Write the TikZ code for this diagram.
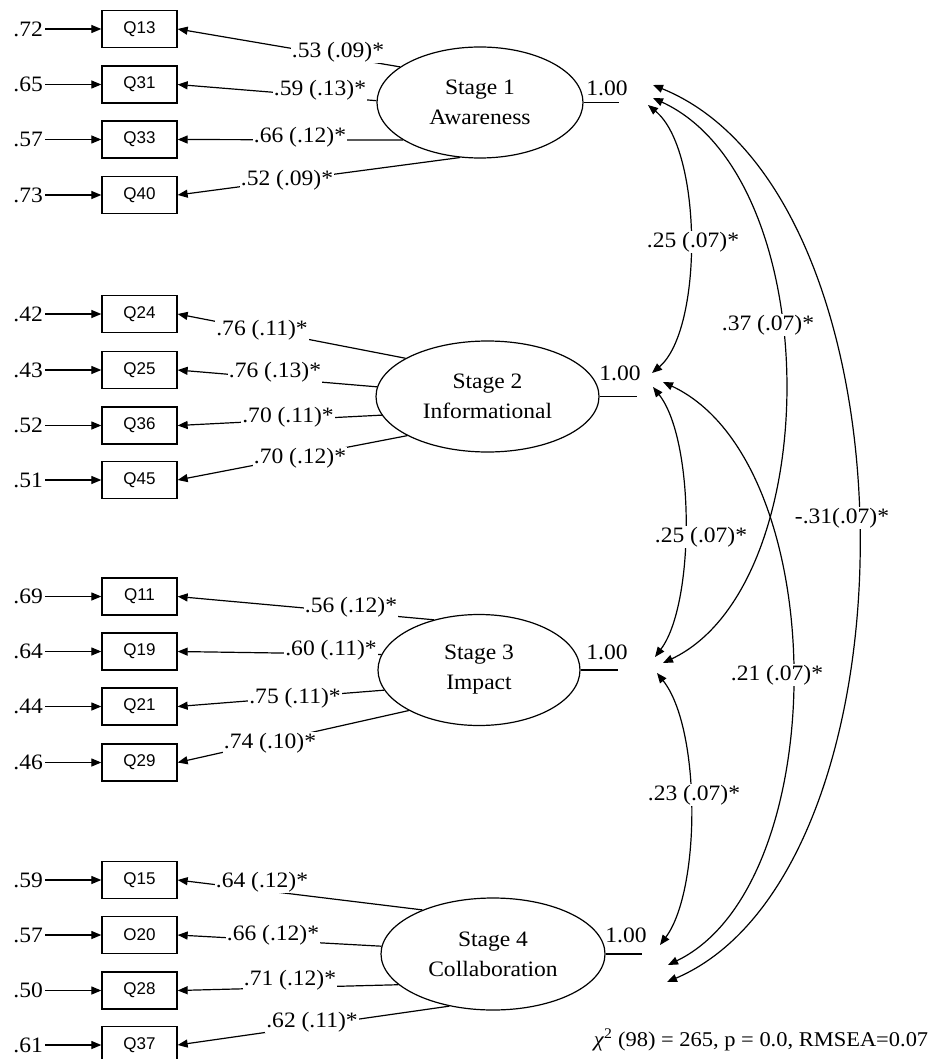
\documentclass[tikz,border=0pt]{standalone}
\usepackage{fontspec}
\setmainfont{Liberation Serif}[FakeStretch=1.07]
\setsansfont{Liberation Sans}
\usetikzlibrary{arrows.meta,shapes.geometric}
\begin{document}
\begin{tikzpicture}[x=1pt,y=-1pt,
  qlbl/.style={fill=white, font=\fontsize{22}{26}\selectfont, inner sep=1pt},
  vlbl/.style={font=\fontsize{22}{26}\selectfont, inner sep=1pt},
  qres/.style={font=\fontsize{22}{26}\selectfont, anchor=east, inner sep=2pt},
  qbox/.style={draw, line width=1.3pt, minimum width=75pt, minimum height=37pt, inner sep=0pt,
    font=\sffamily\fontsize{17}{20}\selectfont},
  latent/.style={draw, ellipse, line width=1.2pt, inner sep=0pt, align=center,
    font=\fontsize{22}{30}\selectfont},
  loadln/.style={line width=1.2pt, -{Triangle[length=10pt,width=8pt]}},
  covln/.style={line width=1.2pt, {Triangle[length=10pt,width=8pt]}-{Triangle[length=10pt,width=8pt]}},
  varln/.style={line width=1.2pt}
]
\fill[white] (0,0) rectangle (938,1059);
\useasboundingbox (0,0) rectangle (938,1059);

% latent variables
\node[latent, minimum width=206pt, minimum height=111pt] (S1) at (480,102.5) {Stage 1\\Awareness};
\node[latent, minimum width=223pt, minimum height=111pt] (S2) at (487.5,396.5) {Stage 2\\Informational};
\node[latent, minimum width=202pt, minimum height=111pt] (S3) at (479,670) {Stage 3\\Impact};
\node[latent, minimum width=224pt, minimum height=112pt] (S4) at (493,954) {Stage 4\\Collaboration};

% indicator boxes
\node[qbox] (Q13) at (139.5,29) {Q13};
\node[qbox] (Q31) at (139.5,84.5) {Q31};
\node[qbox] (Q33) at (139.5,139.5) {Q33};
\node[qbox] (Q40) at (139.5,195) {Q40};
\node[qbox] (Q24) at (139.5,314) {Q24};
\node[qbox] (Q25) at (139.5,370) {Q25};
\node[qbox] (Q36) at (139.5,425.5) {Q36};
\node[qbox] (Q45) at (139.5,480) {Q45};
\node[qbox] (Q11) at (139.5,596.5) {Q11};
\node[qbox] (Q19) at (139.5,651.5) {Q19};
\node[qbox] (Q21) at (139.5,706.5) {Q21};
\node[qbox] (Q29) at (139.5,762.5) {Q29};
\node[qbox] (Q15) at (139.5,880) {Q15};
\node[qbox] (Q20) at (139.5,935) {O20};
\node[qbox] (Q28) at (139.5,990.5) {Q28};
\node[qbox] (Q37) at (139.5,1045) {Q37};

% residuals
\node[qres] (r13) at (45,29) {.72};
\node[qres] (r31) at (45,84.5) {.65};
\node[qres] (r33) at (45,139.5) {.57};
\node[qres] (r40) at (45,195) {.73};
\node[qres] (r24) at (45,314) {.42};
\node[qres] (r25) at (45,370) {.43};
\node[qres] (r36) at (45,425.5) {.52};
\node[qres] (r45) at (45,480) {.51};
\node[qres] (r11) at (45,596.5) {.69};
\node[qres] (r19) at (45,651.5) {.64};
\node[qres] (r21) at (45,706.5) {.44};
\node[qres] (r29) at (45,762.5) {.46};
\node[qres] (r15) at (45,880) {.59};
\node[qres] (r20) at (45,935) {.57};
\node[qres] (r28) at (45,990.5) {.50};
\node[qres] (r37) at (45,1045) {.61};
\foreach \q in {13,31,33,40,24,25,36,45,11,19,21,29,15,20,28,37}
  \draw[loadln] (r\q) -- (Q\q);

% loadings
\draw[loadln] (S1.156) -- (Q13.east);
\draw[loadln] (S1.179) -- (Q31.east);
\draw[loadln] (S1.206) -- (Q33.east);
\draw[loadln] (S1.250) -- (Q40.east);
\draw[loadln] (S2.155) -- (Q24.east);
\draw[loadln] (S2.175) -- (Q25.east);
\draw[loadln] (S2.190) -- (Q36.east);
\draw[loadln] (S2.206) -- (Q45.east);
\draw[loadln] (S3.132) -- (Q11.east);
\draw[loadln] (S3.171) -- (Q19.east);
\draw[loadln] (S3.192.5) -- (Q21.east);
\draw[loadln] (S3.210) -- (Q29.east);
\draw[loadln] (S4.148) -- (Q15.east);
\draw[loadln] (S4.176) -- (Q20.east);
\draw[loadln] (S4.198) -- (Q28.east);
\draw[loadln] (S4.230) -- (Q37.east);

\node[qlbl] (l13) at (338,52) {.53 (.09)*};
\node[qlbl] (l31) at (320,90) {.59 (.13)*};
\node[qlbl] (l33) at (300,137) {.66 (.12)*};
\node[qlbl] (l40) at (287,180) {.52 (.09)*};
\node[qlbl] (l24) at (262,330) {.76 (.11)*};
\node[qlbl] (l25) at (275,372) {.76 (.13)*};
\node[qlbl] (l36) at (288,417) {.70 (.11)*};
\node[qlbl] (l45) at (300,458) {.70 (.12)*};
\node[qlbl] (l11) at (351,607) {.56 (.12)*};
\node[qlbl] (l19) at (331,650) {.60 (.11)*};
\node[qlbl] (l21) at (295,698) {.75 (.11)*};
\node[qlbl] (l29) at (270,743) {.74 (.10)*};
\node[qlbl] (l15) at (262,882) {.64 (.12)*};
\node[qlbl] (l20) at (273,935) {.66 (.12)*};
\node[qlbl] (l28) at (290,980) {.71 (.12)*};
\node[qlbl] (l37) at (312,1022) {.62 (.11)*};

% variances
\coordinate (V1) at (619,102.5);
\coordinate (V2) at (637,396.5);
\coordinate (V3) at (618,670);
\coordinate (V4) at (642,954);
\draw[varln] (S1.east) -- (V1);
\draw[varln] (S2.east) -- (V2);
\draw[varln] (S3.east) -- (V3);
\draw[varln] (S4.east) -- (V4);
\node[vlbl] (N1) at (607,88) {1.00};
\node[vlbl] (N2) at (620,373) {1.00};
\node[vlbl] (N3) at (607,652) {1.00};
\node[vlbl] (N4) at (626,935) {1.00};

% covariance ends
\coordinate (T1a) at (653,85);
\coordinate (T1b) at (653,98);
\coordinate (T1c) at (648,105);
\coordinate (T2a) at (652,373);
\coordinate (T2b) at (663,382);
\coordinate (T2c) at (653,387);
\coordinate (T3a) at (655,657);
\coordinate (T3b) at (663,663);
\coordinate (T3c) at (657,673);
\coordinate (T4a) at (660,945);
\coordinate (T4b) at (668,965);
\coordinate (T4c) at (667,982);

\draw[covln] (T1c) .. controls (703,150) and (703,330) .. (T2a);
\draw[covln] (T1b) .. controls (827,178) and (827,585) .. (T3b);
\draw[covln] (T1a) .. controls (924,195) and (924,872) .. (T4c);
\draw[covln] (T2c) .. controls (695,440) and (695,604) .. (T3a);
\draw[covln] (T2b) .. controls (834,462) and (834,885) .. (T4b);
\draw[covln] (T3c) .. controls (701,728) and (701,890) .. (T4a);

\node[qlbl] (c12) at (693,242) {.25 (.07)*};
\node[qlbl] (c13) at (768,325) {.37 (.07)*};
\node[qlbl] (c14) at (842,518) {-.31(.07)*};
\node[qlbl] (c23) at (701,537) {.25 (.07)*};
\node[qlbl] (c24) at (777,675) {.21 (.07)*};
\node[qlbl] (c34) at (694,795) {.23 (.07)*};

% fit
\node[font=\fontsize{21}{24}\selectfont, inner sep=0pt] (fit) at (761,1040)
  {\textit{χ}\textsuperscript{2} (98) = 265, p = 0.0, RMSEA=0.07};
\end{tikzpicture}
\end{document}
